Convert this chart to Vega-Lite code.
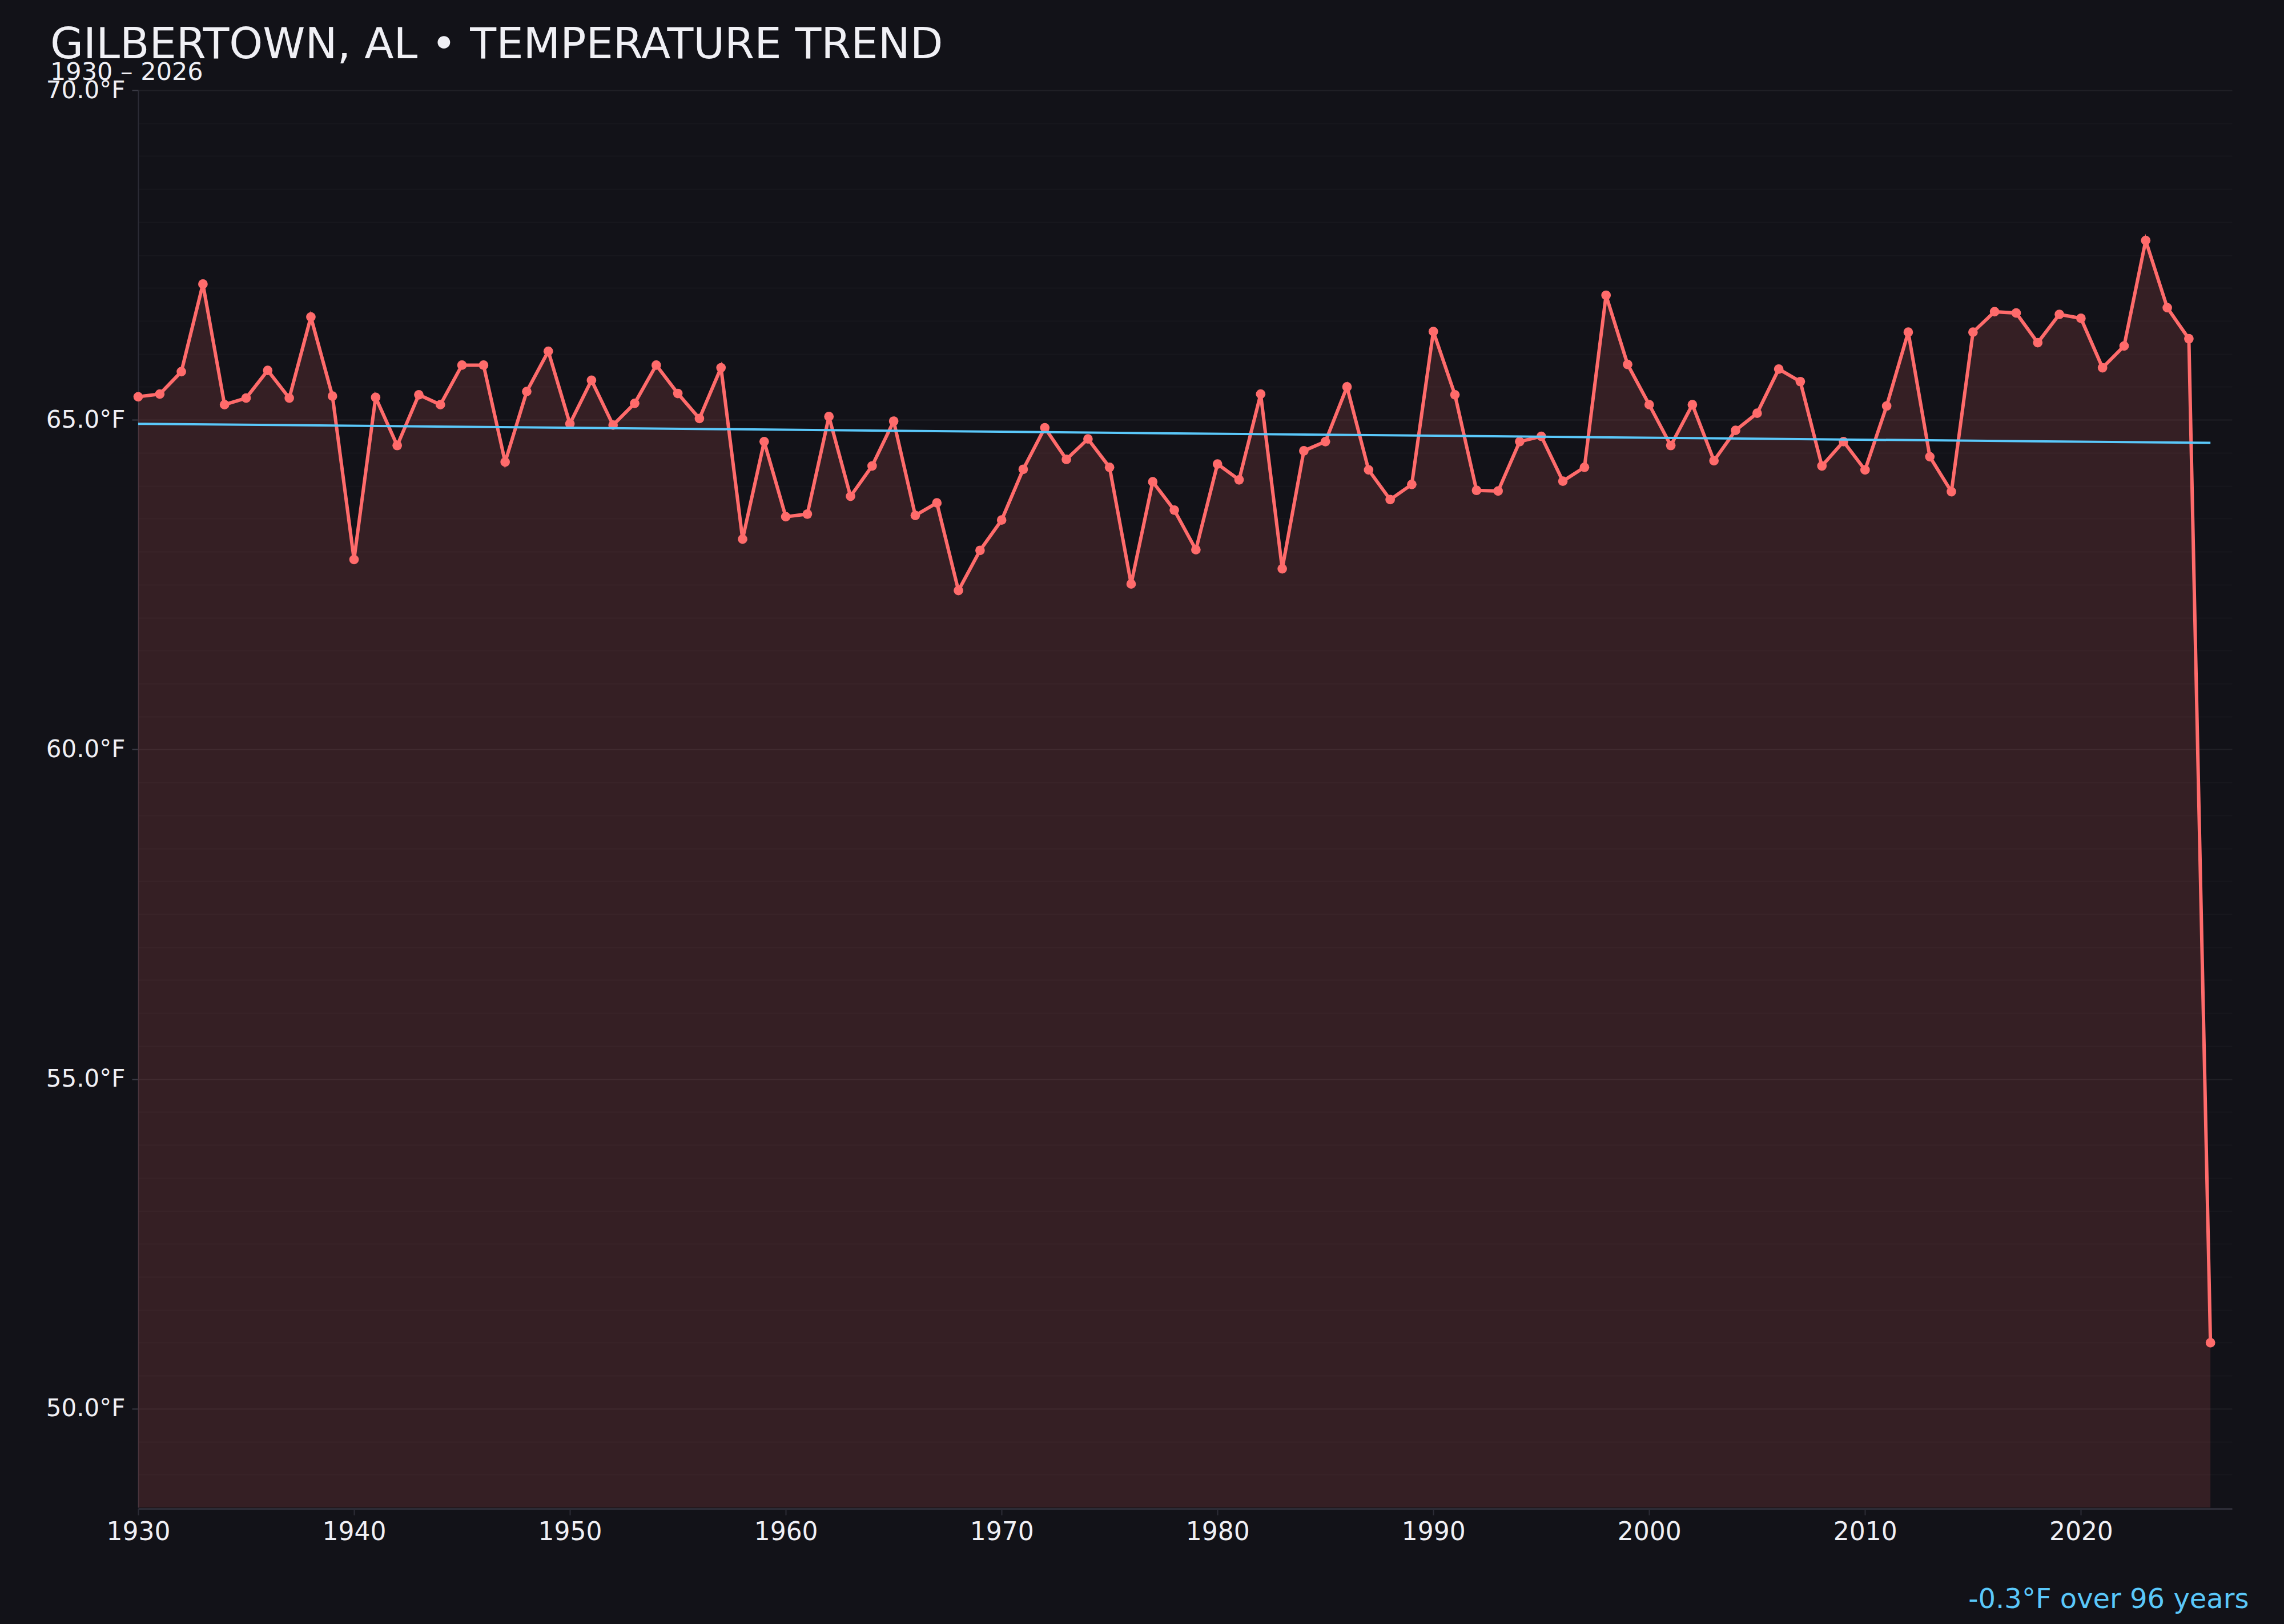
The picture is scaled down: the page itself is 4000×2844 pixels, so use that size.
{
  "$schema": "https://vega.github.io/schema/vega-lite/v6.json",
  "width": 3667,
  "height": 2482,
  "autosize": {"type": "none"},
  "padding": {"left": 242, "top": 158, "right": 91, "bottom": 204},
  "background": "#121218",
  "config": {"font": "DejaVu Sans", "view": {"stroke": null}},
  "title": {
    "text": "GILBERTOWN, AL • TEMPERATURE TREND",
    "subtitle": "1930 – 2026",
    "anchor": "start",
    "frame": "group",
    "dx": -154,
    "offset": -13,
    "fontSize": 75,
    "fontWeight": "normal",
    "color": "#f0f0f5",
    "subtitleFontSize": 43,
    "subtitleColor": "#f0f0f5",
    "subtitlePadding": -12
  },
  "datasets": {
    "temps": [
      {"year": 1930, "temp": 65.35}, {"year": 1931, "temp": 65.39}, {"year": 1932, "temp": 65.73},
      {"year": 1933, "temp": 67.06}, {"year": 1934, "temp": 65.23}, {"year": 1935, "temp": 65.33},
      {"year": 1936, "temp": 65.75}, {"year": 1937, "temp": 65.33}, {"year": 1938, "temp": 66.56},
      {"year": 1939, "temp": 65.36}, {"year": 1940, "temp": 62.88}, {"year": 1941, "temp": 65.34},
      {"year": 1942, "temp": 64.61}, {"year": 1943, "temp": 65.38}, {"year": 1944, "temp": 65.23},
      {"year": 1945, "temp": 65.83}, {"year": 1946, "temp": 65.83}, {"year": 1947, "temp": 64.36},
      {"year": 1948, "temp": 65.43}, {"year": 1949, "temp": 66.04}, {"year": 1950, "temp": 64.94},
      {"year": 1951, "temp": 65.60}, {"year": 1952, "temp": 64.92}, {"year": 1953, "temp": 65.25},
      {"year": 1954, "temp": 65.83}, {"year": 1955, "temp": 65.40}, {"year": 1956, "temp": 65.02},
      {"year": 1957, "temp": 65.79}, {"year": 1958, "temp": 63.19}, {"year": 1959, "temp": 64.67},
      {"year": 1960, "temp": 63.53}, {"year": 1961, "temp": 63.57}, {"year": 1962, "temp": 65.05},
      {"year": 1963, "temp": 63.84}, {"year": 1964, "temp": 64.30}, {"year": 1965, "temp": 64.98},
      {"year": 1966, "temp": 63.55}, {"year": 1967, "temp": 63.74}, {"year": 1968, "temp": 62.41},
      {"year": 1969, "temp": 63.02}, {"year": 1970, "temp": 63.48}, {"year": 1971, "temp": 64.25},
      {"year": 1972, "temp": 64.88}, {"year": 1973, "temp": 64.40}, {"year": 1974, "temp": 64.71},
      {"year": 1975, "temp": 64.28}, {"year": 1976, "temp": 62.51}, {"year": 1977, "temp": 64.06},
      {"year": 1978, "temp": 63.63}, {"year": 1979, "temp": 63.03}, {"year": 1980, "temp": 64.33},
      {"year": 1981, "temp": 64.09}, {"year": 1982, "temp": 65.39}, {"year": 1983, "temp": 62.74},
      {"year": 1984, "temp": 64.53}, {"year": 1985, "temp": 64.67}, {"year": 1986, "temp": 65.50},
      {"year": 1987, "temp": 64.24}, {"year": 1988, "temp": 63.79}, {"year": 1989, "temp": 64.02},
      {"year": 1990, "temp": 66.34}, {"year": 1991, "temp": 65.38}, {"year": 1992, "temp": 63.93},
      {"year": 1993, "temp": 63.92}, {"year": 1994, "temp": 64.67}, {"year": 1995, "temp": 64.75},
      {"year": 1996, "temp": 64.07}, {"year": 1997, "temp": 64.28}, {"year": 1998, "temp": 66.89},
      {"year": 1999, "temp": 65.84}, {"year": 2000, "temp": 65.23}, {"year": 2001, "temp": 64.61},
      {"year": 2002, "temp": 65.23}, {"year": 2003, "temp": 64.38}, {"year": 2004, "temp": 64.84},
      {"year": 2005, "temp": 65.10}, {"year": 2006, "temp": 65.77}, {"year": 2007, "temp": 65.58},
      {"year": 2008, "temp": 64.30}, {"year": 2009, "temp": 64.67}, {"year": 2010, "temp": 64.24},
      {"year": 2011, "temp": 65.21}, {"year": 2012, "temp": 66.33}, {"year": 2013, "temp": 64.44},
      {"year": 2014, "temp": 63.91}, {"year": 2015, "temp": 66.33}, {"year": 2016, "temp": 66.64},
      {"year": 2017, "temp": 66.62}, {"year": 2018, "temp": 66.17}, {"year": 2019, "temp": 66.60},
      {"year": 2020, "temp": 66.54}, {"year": 2021, "temp": 65.79}, {"year": 2022, "temp": 66.12},
      {"year": 2023, "temp": 67.72}, {"year": 2024, "temp": 66.70}, {"year": 2025, "temp": 66.23},
      {"year": 2026, "temp": 51.0}
    ],
    "trend": [
      {"year": 1930, "temp": 64.94},
      {"year": 2026, "temp": 64.65}
    ]
  },
  "layer": [
    {
      "data": {"name": "temps"},
      "mark": {"type": "area", "color": "#ff6b6b", "opacity": 0.15},
      "encoding": {
        "x": {
          "field": "year",
          "type": "quantitative",
          "scale": {"domain": [1930, 2027], "nice": false, "zero": false},
          "axis": {
            "values": [1930, 1940, 1950, 1960, 1970, 1980, 1990, 2000, 2010, 2020],
            "format": "d",
            "grid": false,
            "offset": 2,
            "domainColor": "#2c2c36",
            "domainWidth": 3,
            "tickColor": "#2c2c36",
            "tickWidth": 2,
            "tickSize": 11,
            "labelColor": "#f0f0f5",
            "labelFontSize": 44,
            "labelPadding": 8,
            "labelFlush": false,
            "title": "-0.3°F over 96 years",
            "titleColor": "#5ac8fa",
            "titleFontSize": 48,
            "titleFontWeight": "normal",
            "titleAlign": "right",
            "titleAnchor": "end",
            "titleBaseline": "alphabetic",
            "titleX": 3696,
            "titleY": 173
          }
        },
        "y": {
          "field": "temp",
          "type": "quantitative",
          "scale": {"domain": [48.5, 70], "nice": false, "zero": false},
          "axis": {
            "values": [49, 49.5, 50, 50.5, 51, 51.5, 52, 52.5, 53, 53.5, 54, 54.5, 55, 55.5, 56, 56.5, 57, 57.5, 58, 58.5, 59, 59.5, 60, 60.5, 61, 61.5, 62, 62.5, 63, 63.5, 64, 64.5, 65, 65.5, 66, 66.5, 67, 67.5, 68, 68.5, 69, 69.5, 70],
            "labelExpr": "datum.value % 5 === 0 ? format(datum.value, '.1f') + '°F' : ''",
            "title": null,
            "grid": true,
            "gridColor": "#ffffff",
            "gridWidth": 2,
            "gridOpacity": {"condition": {"test": "datum.value % 5 === 0", "value": 0.06}, "value": 0.022},
            "domainColor": "#2c2c36",
            "domainWidth": 2,
            "tickColor": "#3a3a44",
            "tickWidth": 2,
            "tickSize": 11,
            "tickOpacity": {"condition": {"test": "datum.value % 5 === 0", "value": 1}, "value": 0},
            "labelColor": "#f0f0f5",
            "labelFontSize": 42,
            "labelPadding": 12
          }
        },
        "y2": {"datum": 48.5}
      }
    },
    {
      "data": {"name": "temps"},
      "mark": {
        "type": "line",
        "color": "#ff6b6b",
        "strokeWidth": 6,
        "point": {"filled": true, "size": 280, "color": "#ff6b6b", "opacity": 1}
      },
      "encoding": {
        "x": {"field": "year", "type": "quantitative"},
        "y": {"field": "temp", "type": "quantitative"}
      }
    },
    {
      "data": {"name": "trend"},
      "mark": {"type": "line", "color": "#5ac8fa", "strokeWidth": 4},
      "encoding": {
        "x": {"field": "year", "type": "quantitative"},
        "y": {"field": "temp", "type": "quantitative"}
      }
    }
  ]
}
